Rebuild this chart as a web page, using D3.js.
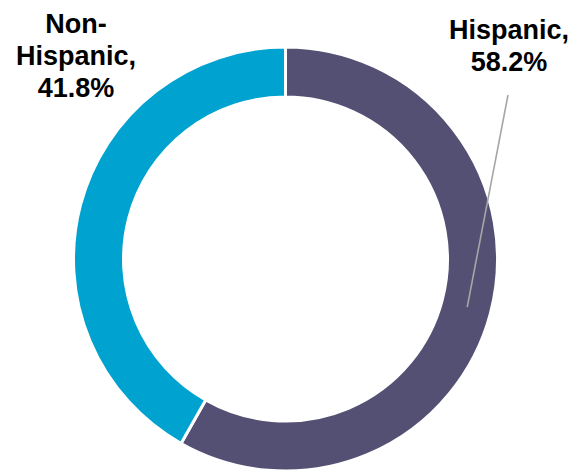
<!DOCTYPE html>
<html>
<head>
<meta charset="utf-8">
<script src="https://cdn.jsdelivr.net/npm/d3@7"></script>
<style>
  html, body { margin: 0; padding: 0; background: #fff; }
  svg { display: block; }
</style>
</head>
<body>
<svg id="chart" width="587" height="472"></svg>
<script>
// Ethnicity split
const categories = ["Hispanic", "Non-Hispanic"];
const values = [58.2, 41.8];
const colors = ["#535073", "#00A3CF"];
const labelLines = [["Hispanic,", "58.2%"], ["Non-", "Hispanic,", "41.8%"]];

const width = 587, height = 472;
const cx = 285.5, cy = 259;
const outerR = 212, innerR = 162;

const svg = d3.select("#chart");

const pie = d3.pie().sort(null).value(d => d.value);
const arc = d3.arc().innerRadius(innerR).outerRadius(outerR);

const data = categories.map((c, i) => ({ name: c, value: values[i], color: colors[i], lines: labelLines[i] }));
const arcs = pie(data);

const g = svg.append("g").attr("transform", `translate(${cx},${cy})`);

g.selectAll("path.slice")
  .data(arcs)
  .enter().append("path")
  .attr("class", "slice")
  .attr("d", arc)
  .attr("fill", d => d.data.color)
  .attr("stroke", "#fff")
  .attr("stroke-width", 3);

// Label anchors (positioned outside the ring)
const labelPos = [
  { x: 509, y: 39 },
  { x: 76, y: 33 }
];

// Leader line for the Hispanic label, ending inside its slice
const leaderAngle = 1.83; // radians, clockwise from 12 o'clock
const leaderR = 188;
const lx = cx + leaderR * Math.sin(leaderAngle);
const ly = cy - leaderR * Math.cos(leaderAngle);
svg.append("line")
  .attr("x1", 508).attr("y1", 95)
  .attr("x2", lx).attr("y2", ly)
  .attr("stroke", "#a6a6a6")
  .attr("stroke-width", 1.6);

arcs.forEach((a, i) => {
  const t = svg.append("text")
    .attr("text-anchor", "middle")
    .attr("font-family", "Liberation Sans, Arial, sans-serif")
    .attr("font-weight", "bold")
    .attr("font-size", 27)
    .attr("fill", "#000");
  a.data.lines.forEach((ln, j) => {
    t.append("tspan")
      .attr("x", labelPos[i].x)
      .attr("y", labelPos[i].y + j * 32)
      .text(ln);
  });
});
</script>
</body>
</html>
